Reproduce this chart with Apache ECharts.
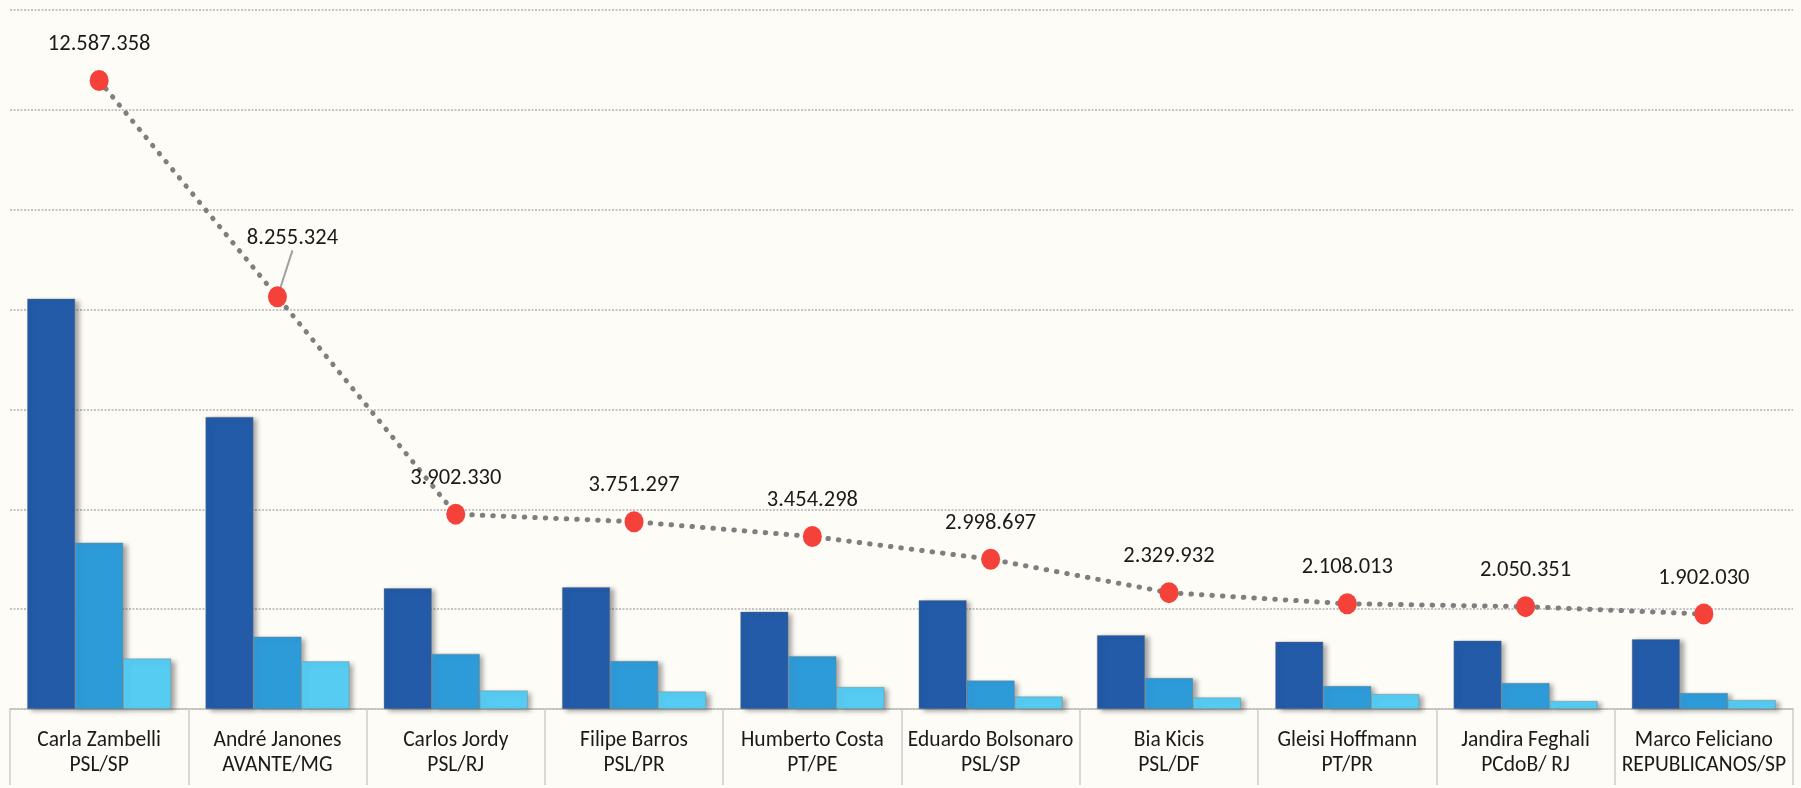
<!DOCTYPE html>
<html>
<head>
<meta charset="utf-8">
<script src="https://cdn.jsdelivr.net/npm/echarts@6/dist/echarts.min.js"></script>
<style>
html,body{margin:0;padding:0;background:#FEFCF7;}
#c{width:1801px;height:788px;}
</style>
</head>
<body>
<div id="c"></div>
<script>
const categories = ['Carla Zambelli\nPSL/SP','André Janones\nAVANTE/MG','Carlos Jordy\nPSL/RJ','Filipe Barros\nPSL/PR','Humberto Costa\nPT/PE','Eduardo Bolsonaro\nPSL/SP','Bia Kicis\nPSL/DF','Gleisi Hoffmann\nPT/PR','Jandira Feghali\nPCdoB/ RJ','Marco Feliciano\nREPUBLICANOS/SP'];
const seriesA = [8220000, 5850000, 2420000, 2440000, 1950000, 2180000, 1480000, 1350000, 1370000, 1400000];
const seriesB = [3330000, 1450000, 1105000, 960000, 1060000, 570000, 620000, 460000, 520000, 320000];
const seriesC = [1010000, 955000, 370000, 350000, 440000, 250000, 230000, 300000, 160000, 180000];
const totals = [12587358, 8255324, 3902330, 3751297, 3454298, 2998697, 2329932, 2108013, 2050351, 1902030];

function fmt(v){ return String(v).replace(/\B(?=(\d{3})+(?!\d))/g, '.'); }

const chart = echarts.init(document.getElementById('c'));
const FONT = 'Carlito, Calibri, "Liberation Sans", sans-serif';
const barShadow = {shadowColor:'rgba(0,0,0,0.35)', shadowBlur:5, shadowOffsetX:4, shadowOffsetY:2, borderColor:'rgba(120,120,120,0.6)', borderWidth:0.6};

const lineData = totals.map((v,i)=> i===1
  ? {value:v, labelLine:{show:true, lineStyle:{color:'#a0a0a0', width:2}}}
  : {value:v, labelLine:{show:false}});

chart.setOption({
  backgroundColor:'#FEFCF7',
  animation:false,
  grid:{left:10, right:8, top:10, bottom:79, containLabel:false},
  xAxis:{
    type:'category', data:categories,
    axisLine:{show:true, lineStyle:{color:'#bfbfbf', width:1.5}},
    axisTick:{show:true, interval:0, alignWithLabel:false, length:76, lineStyle:{color:'#cccccc', width:1.5}},
    axisLabel:{interval:0, margin:19, color:'#1a1a1a', fontSize:21.5, lineHeight:25, fontFamily:FONT}
  },
  yAxis:{
    type:'value', min:0, max:14000000, interval:2000000,
    axisLabel:{show:false}, axisLine:{show:false}, axisTick:{show:false},
    splitLine:{show:true, lineStyle:{color:'#c4c4c4', type:[2,1.5], width:2}}
  },
  series:[
    {type:'bar', name:'A', data:seriesA, barWidth:48, barGap:'0%', itemStyle:Object.assign({color:'#235BA8'}, barShadow)},
    {type:'bar', name:'B', data:seriesB, barWidth:48, barGap:'0%', itemStyle:Object.assign({color:'#2E9BD9'}, barShadow)},
    {type:'bar', name:'C', data:seriesC, barWidth:48, barGap:'0%', itemStyle:Object.assign({color:'#56CCF2'}, barShadow)},
    {type:'line', name:'Total', data:lineData, z:10,
     symbol:'circle', symbolSize:[19,21],
     itemStyle:{color:'#F4423B'},
     lineStyle:{color:'#7f7f7f', width:5, type:[0.5,10], cap:'round'},
     label:{show:true, position:'top', distance:14, color:'#1a1a1a', fontSize:22.5, fontFamily:FONT, formatter:p=>fmt(p.value)},
     labelLayout:function(p){ if(p.dataIndex===1) return {dx:15, dy:-22}; return {}; },
     labelLine:{show:false}
    }
  ]
});
</script>
</body>
</html>
